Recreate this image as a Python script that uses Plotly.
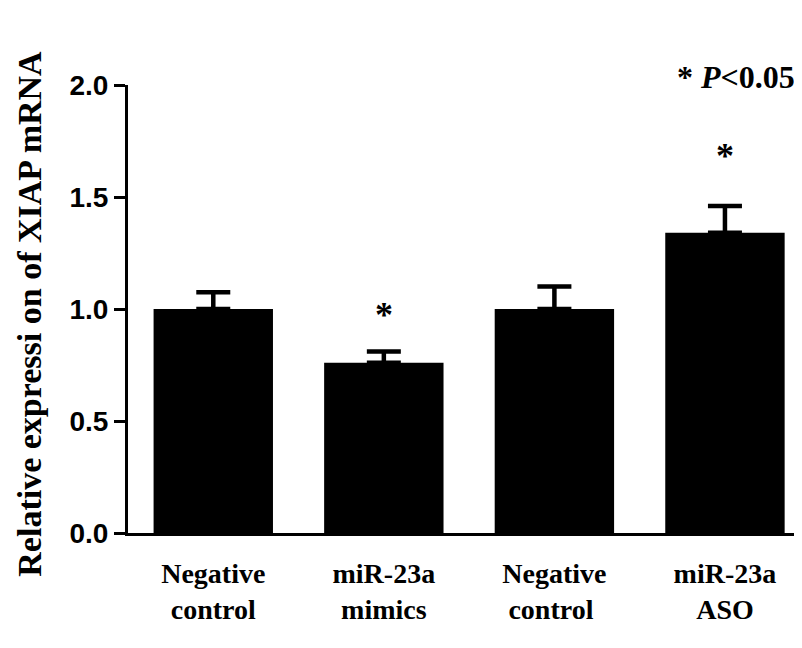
import plotly.graph_objects as go

categories = ["Negative<br>control", "miR-23a<br>mimics", "Negative<br>control ", "miR-23a<br>ASO"]
means = [1.0, 0.76, 1.0, 1.34]
errors = [0.075, 0.05, 0.10, 0.12]
star_y = [None, 1.0, None, 1.71]
y_ticks = [0.0, 0.5, 1.0, 1.5, 2.0]
y_tick_labels = ["0.0", "0.5", "1.0", "1.5", "2.0"]

fig = go.Figure()
fig.add_trace(go.Bar(
    x=list(range(len(categories))), y=means, width=0.70,
    marker=dict(color="black", line=dict(color="black", width=0)),
    error_y=dict(type="data", symmetric=False, array=errors,
                 arrayminus=[0]*len(errors), color="black", thickness=4.5, width=17),
))

for i, s in enumerate(star_y):
    if s is not None:
        fig.add_annotation(x=i, y=s, text="<b>*</b>", showarrow=False, yanchor="middle",
                           yshift=-6,
                           font=dict(family="Liberation Serif", size=36, color="black"))

fig.add_annotation(xref="paper", yref="paper", x=0.995, y=1.0, xanchor="right", yanchor="middle",
                   yshift=8, showarrow=False,
                   text="<b>* <i>P</i>&lt;0.05</b>",
                   font=dict(family="Liberation Serif", size=32, color="black"))

fig.add_annotation(xref="paper", yref="paper", x=-0.147, y=0.49, textangle=-90,
                   showarrow=False, xanchor="center", yanchor="middle",
                   text="<b>Relative expressi on of XIAP mRNA</b>",
                   font=dict(family="Liberation Serif", size=34, color="black"))

fig.update_layout(
    width=794, height=640, paper_bgcolor="white", plot_bgcolor="white",
    margin=dict(l=120, r=2, t=77, b=115, autoexpand=False), showlegend=False,
    xaxis=dict(range=[-0.5, 3.44], tickmode="array", tickvals=list(range(len(categories))),
               ticktext=["<b>" + c + "</b>" for c in categories],
               showline=True, linecolor="black", linewidth=3, ticks="", showgrid=False,
               zeroline=False, ticklabelstandoff=13, automargin=False,
               tickfont=dict(family="Liberation Serif", size=28, color="black")),
    yaxis=dict(range=[0, 2.0], tickmode="array", tickvals=y_ticks,
               ticktext=["<b>" + t + "</b>" for t in y_tick_labels],
               showline=True, linecolor="black", linewidth=3, ticks="outside",
               ticklen=11, tickwidth=3, tickcolor="black", showgrid=False, zeroline=False,
               automargin=False,
               tickfont=dict(family="Liberation Sans", size=28, color="black")),
)

fig.write_html("out.html")
